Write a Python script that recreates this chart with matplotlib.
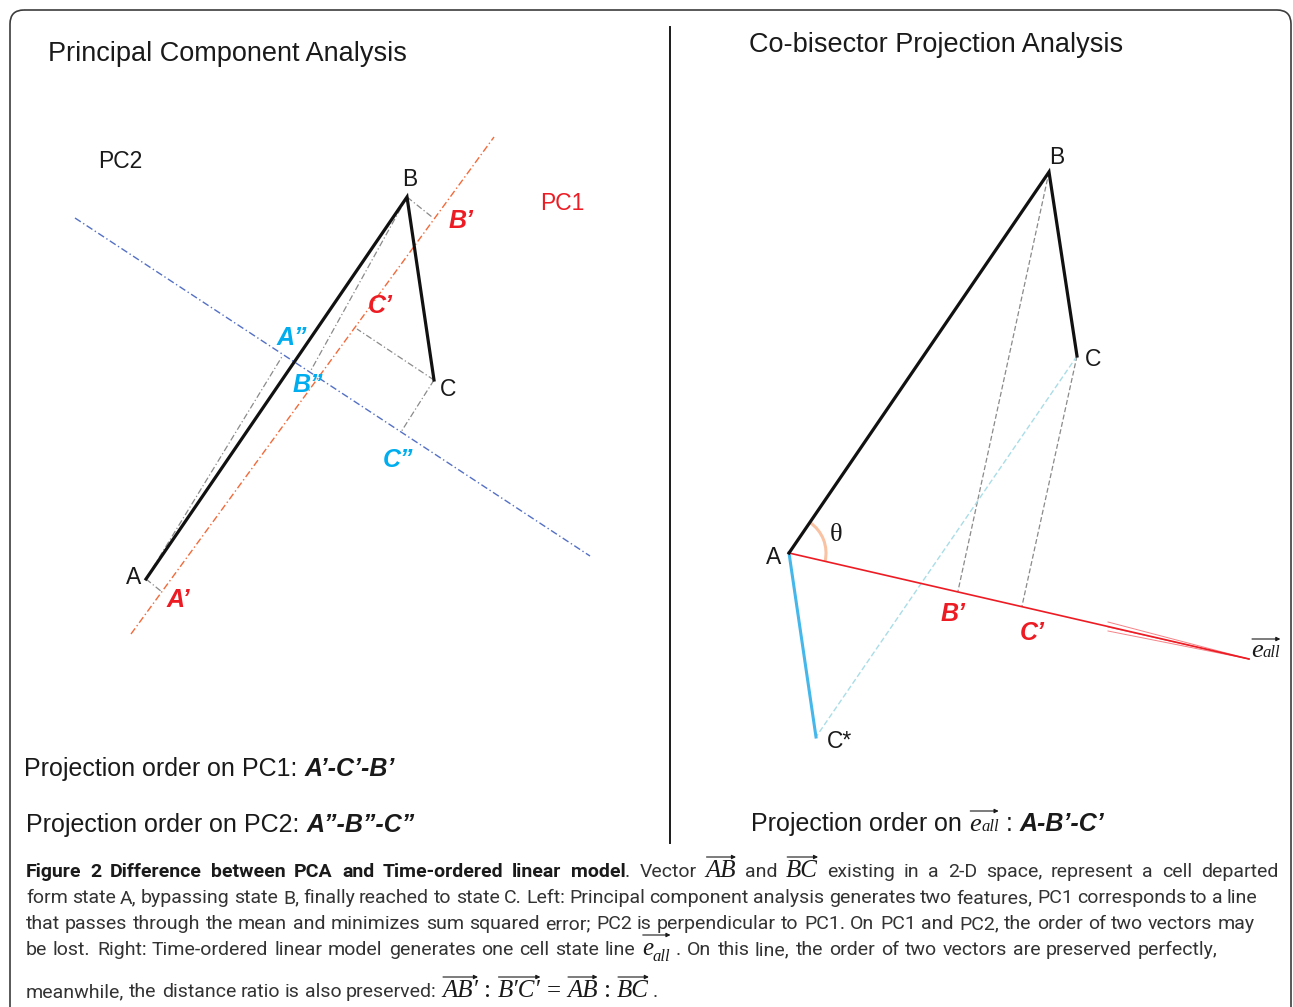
import numpy as np
import matplotlib.pyplot as plt
from matplotlib.patches import Arc, FancyBboxPatch

plt.rcParams['font.family'] = ['Liberation Sans', 'DejaVu Sans']

W, H = 1293, 1007

# left panel (PCA) -- drawing units are pixels, y grows downwards
left_names = ['A', 'B', 'C']
left_x = [146, 407, 434]
left_y = [579, 197, 380]
pc1_x = [131, 494]
pc1_y = [634, 137]
pc2_x = [75, 590]
pc2_y = [218, 556]
pc1_foot_x = [162, 432, 357]   # A', B', C'
pc1_foot_y = [592, 217, 329]
pc2_foot_x = [283, 310, 401]   # A'', B'', C''
pc2_foot_y = [355, 372, 432]

# right panel (co-bisector projection)
right_names = ['A', 'B', 'C']
right_x = [789, 1049, 1077]
right_y = [553, 172, 356]
cstar_x = 816
cstar_y = 737
eall_x = [789, 1249]
eall_y = [553, 659]
eall_foot_x = [958, 1022]      # B', C'
eall_foot_y = [591, 606]
fan_x0 = 1108
fan_y0 = [622, 627, 631]

RED = '#ed1c24'
CYAN = '#00aeef'
GRAY = '#8a8a8a'
INK = '#1a1a1a'
DASHDOT = (0, (5, 2, 1, 2))

fig = plt.figure(figsize=(W / 100, H / 100), dpi=100)
ax = fig.add_axes([0, 0, 1, 1])
ax.set_xlim(0, W)
ax.set_ylim(H, 0)
ax.axis('off')
renderer = fig.canvas.get_renderer()

# outer frame + divider
ax.add_patch(FancyBboxPatch((10, 10), 1281, 1060, boxstyle='round,pad=0,rounding_size=14',
                            fc='none', ec='#3c3c3c', lw=1.2))
ax.plot([670, 670], [27, 843], color=INK, lw=1.4)

# ---------- left panel ----------
ax.plot(pc1_x, pc1_y, color='#f26a3a', lw=1, ls=DASHDOT)
ax.plot(pc2_x, pc2_y, color='#5470c6', lw=1, ls=DASHDOT)
for i in range(3):
    ax.plot([left_x[i], pc1_foot_x[i]], [left_y[i], pc1_foot_y[i]], color=GRAY, lw=0.9, ls=DASHDOT)
    ax.plot([left_x[i], pc2_foot_x[i]], [left_y[i], pc2_foot_y[i]], color=GRAY, lw=0.9, ls=DASHDOT)
ax.plot(left_x, left_y, color='#111111', lw=2.3, solid_joinstyle='miter')

lab = dict(fontsize=16.5, color=INK, ha='center', va='center')
ax.text(left_x[0] - 12, left_y[0] - 1, 'A', **lab)
ax.text(left_x[1] + 3, left_y[1] - 18, 'B', **lab)
ax.text(left_x[2] + 14, left_y[2] + 9, 'C', **lab)
ax.text(98, 162, 'PC2', fontsize=16.5, color=INK, ha='left', va='center')
ax.text(540, 204, 'PC1', fontsize=16.5, color=RED, ha='left', va='center')

bi = dict(fontsize=18, fontweight='bold', fontstyle='italic', ha='center', va='center')
ax.text(178, 600, 'A\u2019', color=RED, **bi)
ax.text(461, 221, 'B\u2019', color=RED, **bi)
ax.text(380, 306, 'C\u2019', color=RED, **bi)
ax.text(292, 338, 'A\u201d', color=CYAN, **bi)
ax.text(308, 385, 'B\u201d', color=CYAN, **bi)
ax.text(398, 460, 'C\u201d', color=CYAN, **bi)

# ---------- right panel ----------
for i in range(2):
    ax.plot([right_x[i + 1], eall_foot_x[i]], [right_y[i + 1], eall_foot_y[i]],
            color=GRAY, lw=0.9, ls=(0, (4, 2)))
ax.plot([right_x[2], cstar_x], [right_y[2], cstar_y], color='#a9dde7', lw=1, ls=(0, (4, 2)))
ax.plot([right_x[0], cstar_x], [right_y[0], cstar_y], color='#45b7ea', lw=2.2)
ax.plot(eall_x, eall_y, color=RED, lw=1.2)
for fy in fan_y0:
    ax.plot([fan_x0, eall_x[1]], [fy, eall_y[1]], color=RED, lw=0.7, alpha=0.55)
ax.plot(right_x, right_y, color='#111111', lw=2.3, solid_joinstyle='miter')

ang_ab = np.degrees(np.arctan2(right_y[1] - right_y[0], right_x[1] - right_x[0]))
ang_e = np.degrees(np.arctan2(eall_y[1] - eall_y[0], eall_x[1] - eall_x[0]))
ax.add_patch(Arc((right_x[0], right_y[0]), 74, 74, theta1=ang_ab, theta2=ang_e,
                 color='#f9c2a3', lw=2.2))
ax.text(836, 535, '\u03b8', fontsize=19, color=INK, ha='center', va='center',
        family=['Liberation Serif', 'DejaVu Serif'])

ax.text(right_x[0] - 15, right_y[0] + 4, 'A', **lab)
ax.text(right_x[1] + 8, right_y[1] - 14, 'B', **lab)
ax.text(right_x[2] + 16, right_y[2] + 3, 'C', **lab)
ax.text(cstar_x + 24, cstar_y + 4, 'C*', **lab)
ax.text(953, 614, 'B\u2019', color=RED, **bi)
ax.text(1032, 633, 'C\u2019', color=RED, **bi)


# ---------- text helpers ----------
SERIF = ['Liberation Serif', 'DejaVu Serif']


def text_w(s, kw):
    t = ax.text(0, 500, s, **kw)
    w = t.get_window_extent(renderer=renderer).width
    t.remove()
    return w


def draw_vec(x, y, subs, lift=3):
    # subs: (text, style, dy); an arrow is drawn over the whole group
    x0, top = x, None
    for s, kw, dy in subs:
        t = ax.text(x, y + dy, s, ha='left', va='baseline', **kw)
        bb = t.get_window_extent(renderer=renderer)
        x += bb.width
        ttop = H - bb.y1
        top = ttop if top is None else min(top, ttop)
    ya = top - lift
    ax.annotate('', xy=(x, ya), xytext=(x0 + 1, ya),
                arrowprops=dict(arrowstyle='-|>', color=INK, lw=0.8, mutation_scale=6,
                                shrinkA=0, shrinkB=0))
    return x


def put_line(x, y, pieces, right=None):
    items = []
    for p in pieces:
        if p[0] == 'vec':
            items.append(('vec', p[1], sum(text_w(s, kw) for s, kw, dy in p[1])))
            continue
        s, kw = p
        for j, wd in enumerate(s.split(' ')):
            if j > 0:
                items.append(('gap', None, text_w('a a', kw) - text_w('aa', kw)))
            if wd:
                items.append(('txt', (wd, kw), text_w(wd, kw)))
    extra = 0
    ngaps = sum(1 for it in items if it[0] == 'gap')
    if right is not None and ngaps:
        extra = (right - x - sum(it[2] for it in items)) / ngaps
    for kind, obj, w in items:
        if kind == 'gap':
            x += w + extra
        elif kind == 'txt':
            ax.text(round(x), y, obj[0], ha='left', va='baseline', **obj[1])
            x += w
        else:
            x = draw_vec(x, y, obj)
    return x


# e_all label at the end of the line
e_big = dict(fontsize=19, color=INK, family=SERIF, fontstyle='italic')
e_small = dict(fontsize=12, color=INK, family=SERIF, fontstyle='italic')
draw_vec(1251, 657, [('e', e_big, 0), ('all', e_small, 0)], lift=1)

# ---------- titles and order texts ----------
ax.text(48, 54, 'Principal Component Analysis', fontsize=19.5, color=INK, ha='left', va='center')
ax.text(749, 45, 'Co-bisector Projection Analysis', fontsize=19.5, color=INK, ha='left', va='center')

norm = dict(fontsize=18, color=INK)
bold_it = dict(fontsize=18, color=INK, fontweight='bold', fontstyle='italic')
put_line(24, 776, [('Projection order on PC1: ', norm), ('A\u2019-C\u2019-B\u2019', bold_it)])
put_line(26, 832, [('Projection order on PC2: ', norm), ('A\u201d-B\u201d-C\u201d', bold_it)])
put_line(751, 831, [('Projection order on ', norm),
                    ('vec', [('e', e_big, 0), ('all', e_small, 0)]),
                    (' : ', norm), ('A-B\u2019-C\u2019', bold_it)])

# ---------- caption ----------
cap_fam = ['Roboto', 'DejaVu Sans']
cap = dict(fontsize=14, color='#333333', family=cap_fam)
cap_b = dict(fontsize=14, color=INK, family=cap_fam, fontweight='bold')
vi = dict(fontsize=18, color=INK, family=SERIF, fontstyle='italic')
vr = dict(fontsize=18, color=INK, family=SERIF)
sub = dict(fontsize=12, color=INK, family=SERIF, fontstyle='italic')

put_line(26, 877, [('Figure 2 Difference between PCA and Time-ordered linear model', cap_b),
                   ('. Vector ', cap), ('vec', [('AB', vi, 0)]), (' and ', cap),
                   ('vec', [('BC', vi, 0)]), (' existing in a 2-D space, represent a cell departed', cap)],
         right=1278)
put_line(26, 903, [('form state A, bypassing state B, finally reached to state C. Left: Principal component '
                    'analysis generates two features, PC1 corresponds to a line', cap)], right=1258)
put_line(26, 929, [('that passes through the mean and minimizes sum squared error; PC2 is perpendicular to PC1. '
                    'On PC1 and PC2, the order of two vectors may', cap)], right=1255)
put_line(26, 955, [('be lost. Right: Time-ordered linear model generates one cell state line ', cap),
                   ('vec', [('e', vi, 0), ('all', sub, 6)]),
                   (' . On this line, the order of two vectors are preserved perfectly,', cap)], right=1218)
put_line(26, 997, [('meanwhile, the distance ratio is also preserved: ', cap),
                   ('vec', [('AB\u2032', vi, 0)]), (' : ', vr), ('vec', [('B\u2032C\u2032', vi, 0)]),
                   (' = ', vr), ('vec', [('AB', vi, 0)]), (' : ', vr), ('vec', [('BC', vi, 0)]),
                   ('\u2009.', cap)])

fig.savefig('out.png', dpi=100)
